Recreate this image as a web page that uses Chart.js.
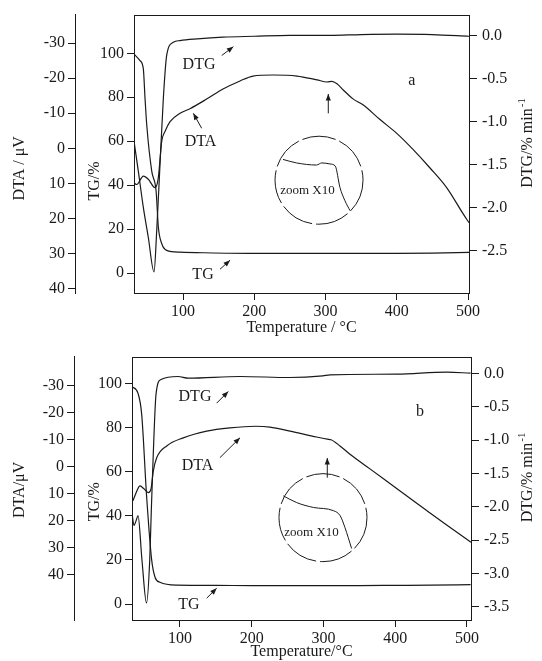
<!DOCTYPE html>
<html>
<head>
<meta charset="utf-8">
<script src="https://cdn.jsdelivr.net/npm/chart.js@4.4.1/dist/chart.umd.min.js"></script>
<style>
  html, body { margin: 0; padding: 0; background: #fff; }
  #hoja { position: relative; width: 542px; height: 661px; }
  canvas { position: absolute; left: 0; }
  #ca { top: 0; }
  #cb { top: 342px; }
</style>
</head>
<body>
<div id="hoja">
  <canvas id="ca" width="542" height="342"></canvas>
  <canvas id="cb" width="542" height="319"></canvas>
</div>
<script>
const INK = '#1a1a1a';
const FUENTE = "'Liberation Serif', 'Times New Roman', serif";

// ticks comunes
const TICKS_T = [100, 200, 300, 400, 500];
const TICKS_TG = [0, 20, 40, 60, 80, 100];
const TICKS_DTA = [-30, -20, -10, 0, 10, 20, 30, 40];
const TICKS_DTG_A = [0, -0.5, -1, -1.5, -2, -2.5];
const TICKS_DTG_B = [0, -0.5, -1, -1.5, -2, -2.5, -3, -3.5];

// ---------- panel a ----------
const T_TG_A = [31.2, 39.6, 44.3, 46.7, 49.1, 56.1, 62.2, 65.4, 70.2, 77.1, 95.8, 130, 200, 250, 300, 350, 400, 450, 501.4];
const TG_A   = [99.7, 96.7, 92.9, 79.4, 67.4, 46.4, 37.4, 20.9, 13.4, 10.4, 9.6, 9.3, 9.0, 9.0, 9.0, 9.0, 9.0, 9.1, 9.5];

const T_DTG_A = [31.2, 37.3, 44.3, 51.3, 59.3, 63.1, 67.7, 72.4, 77.1, 86.4, 95.8, 120, 156, 200, 250, 306, 350, 400, 450, 501.4];
const DTG_A   = [-1.23, -1.58, -2.0, -2.35, -2.75, -2.27, -1.5, -0.73, -0.23, -0.08, -0.06, -0.04, -0.02, -0.01, 0.0, 0.0, 0.01, 0.015, 0.01, -0.01];

const T_DTA_A = [31.2, 35, 44.3, 51.3, 60.7, 65.3, 70.1, 74.7, 81.8, 95.8, 109.8, 133.7, 156.1, 180, 198.2, 226.3, 260, 288.1, 302.1, 309.1, 316.1, 324.6, 338.6, 352.6, 376.5, 400.4, 422.8, 446.7, 470.5, 493, 501.4];
const DTA_A   = [9.8, 10.3, 7.9, 8.8, 11.2, 8.4, -2.0, -4.8, -7.6, -10.0, -11.3, -14.1, -16.9, -19.2, -20.6, -20.9, -20.6, -19.5, -18.9, -19.1, -18.4, -16.7, -14.1, -12.4, -8.2, -4.2, 0.3, 5.6, 11.3, 18.6, 21.2];

// detalle "zoom X10" (escala propia, oculta)
const T_ZOOM_A = [300.0, 302.0, 305.0, 305.8, 306.4, 307.0, 307.8, 308.5, 309.25, 310.0];
const ZOOM_A   = [-19.49, -19.39, -19.33, -19.39, -19.38, -19.36, -19.30, -18.69, -18.31, -18.03];

// ---------- panel b ----------
const T_TG_B = [33.1, 41.5, 46.6, 53.6, 60.6, 65.2, 72.1, 95.8, 150, 200, 250, 300, 350, 400, 450, 505];
const TG_B   = [98.6, 95.5, 86.0, 48.2, 19.8, 12.2, 9.9, 8.6, 8.5, 8.4, 8.4, 8.4, 8.4, 8.5, 8.6, 8.8];

const T_DTG_B = [33.1, 35.9, 38.7, 41.5, 47.0, 53.3, 57.8, 60.0, 62.4, 66.6, 73.5, 97.2, 111.5, 183.6, 253, 299, 309, 402, 472, 505];
const DTG_B   = [-2.09, -2.28, -2.21, -2.13, -2.80, -3.44, -2.80, -2.06, -1.31, -0.31, -0.09, -0.045, -0.07, -0.045, -0.06, -0.035, -0.02, -0.01, 0.02, 0.005];

const T_DTA_B = [34.5, 38.7, 44.3, 49.8, 55.8, 59.6, 62.8, 67.5, 81.5, 104.6, 137.2, 169.7, 205, 225.4, 253.3, 290.5, 305.3, 310.5, 323, 336.9, 364.8, 402, 439.1, 471.7, 505.6];
const DTA_B   = [12.7, 9.8, 7.2, 8.3, 9.7, 8.3, 1.7, -3.2, -7.6, -10.6, -13.1, -14.3, -14.9, -14.6, -13.1, -10.9, -10.1, -9.9, -7.6, -4.5, 0.9, 8.2, 15.4, 21.7, 28.1];

const T_ZOOM_B = [300.0, 302.0, 304.5, 307.5, 308.5, 309.2, 310.2];
const ZOOM_B   = [-10.5, -10.25, -10.07, -9.95, -9.76, -9.33, -8.55];

function pares(xs, ys) { return xs.map((x, i) => ({ x: x, y: ys[i] })); }
function fijos(lista) { return s => { s.ticks = lista.map(v => ({ value: v })); }; }

// marco, circulo, flechas, rotulos y titulos verticales
const extras = {
  id: 'extras',
  afterDatasetsDraw(chart, args, o) {
    const ctx = chart.ctx, a = chart.chartArea;
    const sx = chart.scales.x, sy = chart.scales.tg;
    const px = v => sx.getPixelForValue(v), py = v => sy.getPixelForValue(v);
    ctx.save();
    ctx.strokeStyle = INK; ctx.fillStyle = INK; ctx.lineWidth = 1;
    ctx.strokeRect(Math.round(a.left) + 0.5, Math.round(a.top) + 0.5, Math.round(a.right - a.left), Math.round(a.bottom - a.top));

    ctx.setLineDash([34, 4]);
    ctx.beginPath();
    ctx.arc(px(o.circulo[0]), py(o.circulo[1]), o.circulo[2], 0, Math.PI * 2);
    ctx.stroke();
    ctx.setLineDash([]);

    o.flechas.forEach(f => {
      const x1 = px(f[0]), y1 = py(f[1]), x2 = px(f[2]), y2 = py(f[3]);
      const ang = Math.atan2(y2 - y1, x2 - x1);
      ctx.beginPath(); ctx.moveTo(x1, y1); ctx.lineTo(x2, y2); ctx.stroke();
      ctx.beginPath(); ctx.moveTo(x2, y2);
      ctx.lineTo(x2 - 7 * Math.cos(ang - 0.38), y2 - 7 * Math.sin(ang - 0.38));
      ctx.lineTo(x2 - 7 * Math.cos(ang + 0.38), y2 - 7 * Math.sin(ang + 0.38));
      ctx.closePath(); ctx.fill();
    });

    ctx.textAlign = 'center'; ctx.textBaseline = 'middle';
    o.textos.forEach(t => {
      ctx.font = (t[3] || 16) + 'px ' + FUENTE;
      ctx.fillText(t[0], px(t[1]), py(t[2]));
    });

    // titulos verticales (leen de abajo hacia arriba)
    o.verticales.forEach(t => {
      ctx.save();
      ctx.translate(t[1], py(t[2]));
      ctx.rotate(-Math.PI / 2);
      ctx.font = '16px ' + FUENTE;
      if (t[3]) {
        const w1 = ctx.measureText(t[0]).width;
        ctx.font = '11px ' + FUENTE;
        const w2 = ctx.measureText(t[3]).width;
        const x0 = -(w1 + w2) / 2;
        ctx.textAlign = 'left';
        ctx.font = '16px ' + FUENTE;
        ctx.fillText(t[0], x0, 0);
        ctx.font = '11px ' + FUENTE;
        ctx.fillText(t[3], x0 + w1 + 1, -6);
      } else {
        ctx.fillText(t[0], 0, 0);
      }
      ctx.restore();
    });
    ctx.restore();
  }
};

function crearPanel(id, c) {
  const tickFont = { family: FUENTE, size: 16 };
  const linea = { borderColor: INK, borderWidth: 1.2, pointRadius: 0, cubicInterpolationMode: 'monotone', fill: false };
  const eje = (ticks, ancho, extra) => Object.assign({
    axis: 'y',
    afterBuildTicks: fijos(ticks),
    afterFit: s => { s.width = ancho; },
    grid: { drawOnChartArea: false, tickLength: 7, color: INK },
    border: { display: false },
    ticks: { font: tickFont, color: INK, padding: 3 }
  }, extra);

  return new Chart(document.getElementById(id), {
    type: 'line',
    data: {
      datasets: [
        Object.assign({ data: pares(c.tTG, c.tg), yAxisID: 'tg' }, linea),
        Object.assign({ data: pares(c.tDTG, c.dtg), yAxisID: 'dtg' }, linea),
        Object.assign({ data: pares(c.tDTA, c.dta), yAxisID: 'dta' }, linea),
        Object.assign({ data: pares(c.tZoom, c.zoom), xAxisID: 'xz', yAxisID: 'yz' }, linea, { borderWidth: 1 })
      ]
    },
    options: {
      responsive: false,
      animation: false,
      events: [],
      layout: { padding: { top: c.arriba, left: 0, right: 0, bottom: 0 } },
      plugins: { legend: { display: false }, tooltip: { enabled: false }, extras: c.extras },
      scales: {
        x: {
          type: 'linear', position: 'bottom', min: c.xMin, max: c.xMax,
          afterBuildTicks: fijos(TICKS_T),
          afterFit: s => { s.height = c.altoX; },
          grid: { drawOnChartArea: false, tickLength: 7, color: INK },
          border: { display: false },
          ticks: { font: tickFont, color: INK, padding: 2, maxRotation: 0, autoSkip: false },
          title: { display: true, text: c.tituloX, font: tickFont, color: INK, padding: { top: 0, bottom: c.padTitulo } }
        },
        tg: eje(TICKS_TG, c.anchoTG, { position: 'left', weight: 0, min: c.tgMin, max: c.tgMax }),
        dta: eje(TICKS_DTA, c.anchoDTA, {
          position: 'left', weight: 1, reverse: true, min: c.dtaMin, max: c.dtaMax,
          border: { display: true, color: INK, width: 1 }
        }),
        dtg: eje(c.ticksDTG, c.anchoDTG, {
          position: 'right', min: c.dtgMin, max: c.dtgMax,
          grid: { drawOnChartArea: false, tickLength: 8, color: INK },
          ticks: { font: tickFont, color: INK, padding: 5, callback: v => v.toFixed(1) }
        }),
        xz: { type: 'linear', axis: 'x', display: false, min: c.xzMin, max: c.xzMax },
        yz: { axis: 'y', display: false, reverse: true, min: c.yzMin, max: c.yzMax }
      }
    },
    plugins: [extras]
  });
}

crearPanel('ca', {
  tTG: T_TG_A, tg: TG_A, tDTG: T_DTG_A, dtg: DTG_A, tDTA: T_DTA_A, dta: DTA_A, tZoom: T_ZOOM_A, zoom: ZOOM_A,
  xMin: 31.2, xMax: 501.4, tgMin: -9.0, tgMax: 117.6, dtaMin: -38.1, dtaMax: 41.2, dtgMin: -2.995, dtgMax: 0.242,
  xzMin: 277.76, xzMax: 327.76, yzMin: -23.62, yzMax: -15.68,
  ticksDTG: TICKS_DTG_A, anchoDTA: 75, anchoTG: 59, anchoDTG: 73, altoX: 49, arriba: 12, padTitulo: 5,
  tituloX: 'Temperature / °C',
  extras: {
    circulo: [290.9, 42.3, 44],
    flechas: [[154.3, 99, 170.6, 103], [126.2, 65.9, 114.5, 72.7], [151.9, 1.8, 166, 5.9], [303.9, 72.7, 303.9, 81.5]],
    textos: [['DTG', 122.5, 95.0], ['DTA', 124.6, 59.9], ['TG', 128.1, -0.9], ['a', 421, 87.7], ['zoom X10', 274.7, 37.8, 13]],
    verticales: [['DTA / μV', 20, 47.7], ['TG/%', 95, 41.9], ['DTG/% min', 528, 59, '-1']]
  }
});

crearPanel('cb', {
  tTG: T_TG_B, tg: TG_B, tDTG: T_DTG_B, dtg: DTG_B, tDTA: T_DTA_B, dta: DTA_B, tZoom: T_ZOOM_B, zoom: ZOOM_B,
  xMin: 33.1, xMax: 505.6, tgMin: -7.2, tgMax: 112.2, dtaMin: -40.7, dtaMax: 56.9, dtgMin: -3.696, dtgMax: 0.253,
  xzMin: 277.42, xzMax: 328.02, yzMin: -15.66, yzMax: -5.90,
  ticksDTG: TICKS_DTG_B, anchoDTA: 74, anchoTG: 58, anchoDTG: 71, altoX: 41, arriba: 13, padTitulo: 0,
  tituloX: 'Temperature/°C',
  extras: {
    circulo: [299.3, 39.2, 44],
    flechas: [[151.1, 91.1, 167.3, 96.4], [155.7, 66.4, 183.6, 75.4], [137.2, 2.7, 151.1, 7.2], [305.3, 57.3, 305.3, 66.2]],
    textos: [['DTG', 120.9, 94.1], ['DTA', 124.4, 62.6], ['TG', 112.5, -0.5], ['b', 434.5, 87.4], ['zoom X10', 283.3, 32.6, 13]],
    verticales: [['DTA/μV', 20, 51.8], ['TG/%', 95, 46.4], ['DTG/% min', 528, 57.2, '-1']]
  }
});
</script>
</body>
</html>
